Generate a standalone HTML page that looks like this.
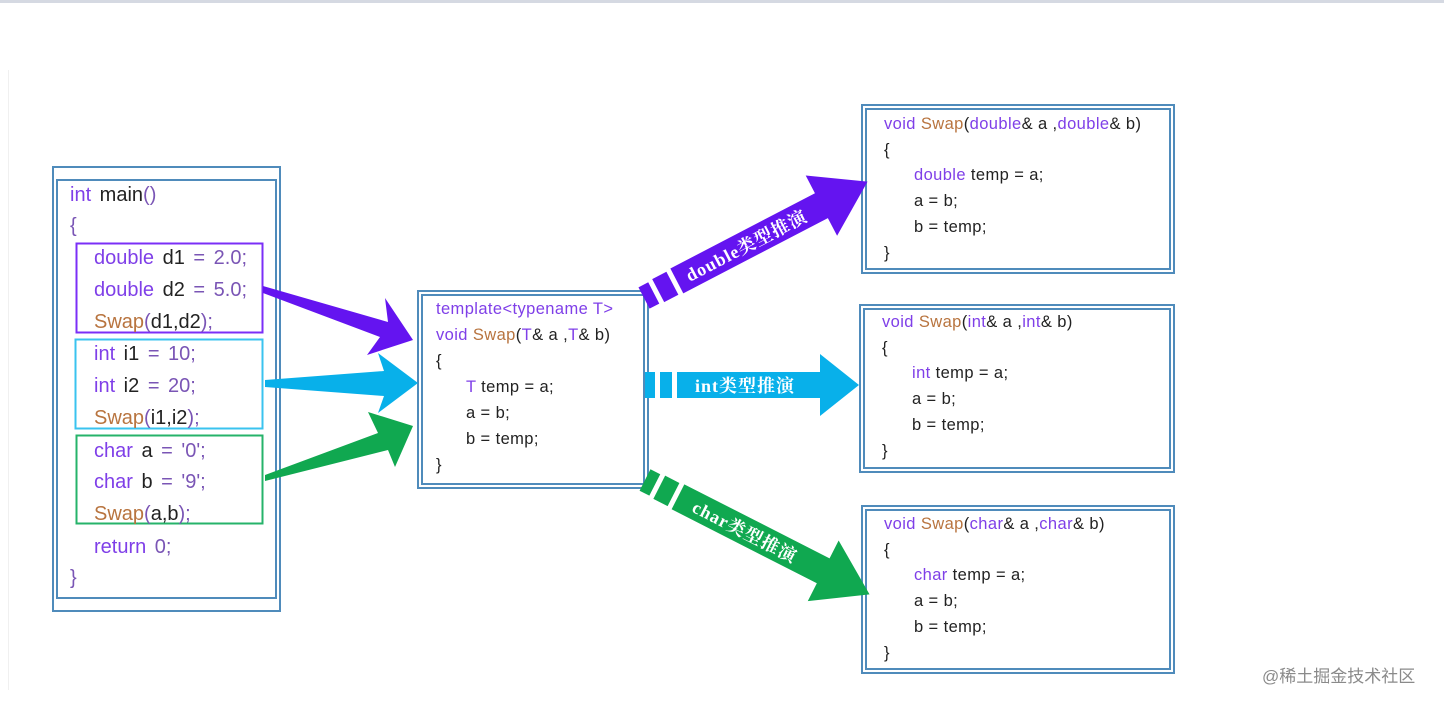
<!DOCTYPE html>
<html><head><meta charset="utf-8"><style>
html,body{margin:0;padding:0;background:#fff;width:1444px;height:706px;overflow:hidden}
svg text{font-family:"Liberation Sans","Noto Sans CJK SC",sans-serif}
.k{fill:#7f3fe8}.s{fill:#b8743f}.n{fill:#7a55b5}.d{fill:#222}
.lab{font-family:"Liberation Serif","Noto Serif CJK SC",serif !important;fill:#fff;font-weight:bold;font-size:18px;letter-spacing:1px}
.sm{font-size:16.5px;letter-spacing:0.4px}
</style></head><body>
<svg width="1444" height="706" xmlns="http://www.w3.org/2000/svg">
<rect x="0" y="0" width="1444" height="3" fill="#d5d9e2"/>
<line x1="8.5" y1="70" x2="8.5" y2="690" stroke="#f0f0f0"/>
<g fill="none" stroke="#4f8bbb" stroke-width="2">
<rect x="53" y="167" width="227" height="444"/><rect x="57" y="180" width="219" height="418"/>
<rect x="418" y="291" width="230" height="197"/><rect x="422" y="295" width="222" height="189"/>
<rect x="862" y="105" width="312" height="168"/><rect x="866" y="109" width="304" height="160"/>
<rect x="860" y="305" width="314" height="167"/><rect x="864" y="309" width="306" height="159"/>
<rect x="862" y="506" width="312" height="167"/><rect x="866" y="510" width="304" height="159"/>
</g>
<rect x="76.500" y="243.500" width="186" height="89" fill="none" stroke="#7b2ff7" stroke-width="2"/>
<rect x="75.500" y="339.500" width="187" height="89" fill="none" stroke="#3ac3ef" stroke-width="2"/>
<rect x="76.500" y="435.500" width="186" height="88" fill="none" stroke="#26b36a" stroke-width="2"/>
<g font-size="20" style="word-spacing:3px">
<text x="70" y="201"><tspan class="k">int</tspan><tspan class="d"> main</tspan><tspan class="n">()</tspan></text>
<text x="70" y="232" class="n">{</text>
<text x="94" y="264"><tspan class="k">double</tspan><tspan class="d"> d1 </tspan><tspan class="n">= 2.0;</tspan></text>
<text x="94" y="296"><tspan class="k">double</tspan><tspan class="d"> d2 </tspan><tspan class="n">= 5.0;</tspan></text>
<text x="94" y="328"><tspan class="s">Swap</tspan><tspan class="n">(</tspan><tspan class="d">d1,d2</tspan><tspan class="n">);</tspan></text>
<text x="94" y="360"><tspan class="k">int</tspan><tspan class="d"> i1 </tspan><tspan class="n">= 10;</tspan></text>
<text x="94" y="392"><tspan class="k">int</tspan><tspan class="d"> i2 </tspan><tspan class="n">= 20;</tspan></text>
<text x="94" y="424"><tspan class="s">Swap</tspan><tspan class="n">(</tspan><tspan class="d">i1,i2</tspan><tspan class="n">);</tspan></text>
<text x="94" y="457"><tspan class="k">char</tspan><tspan class="d"> a </tspan><tspan class="n">= '0';</tspan></text>
<text x="94" y="488"><tspan class="k">char</tspan><tspan class="d"> b </tspan><tspan class="n">= '9';</tspan></text>
<text x="94" y="520"><tspan class="s">Swap</tspan><tspan class="n">(</tspan><tspan class="d">a,b</tspan><tspan class="n">);</tspan></text>
<text x="94" y="553"><tspan class="k">return</tspan><tspan class="n"> 0;</tspan></text>
<text x="70" y="584" class="n">}</text>
</g>
<g class="sm">
<text x="436" y="314"><tspan class="k">template&lt;typename T&gt;</tspan></text>
<text x="436" y="340"><tspan class="k">void </tspan><tspan class="s">Swap</tspan><tspan class="d">(</tspan><tspan class="k">T</tspan><tspan class="d">&amp; a ,</tspan><tspan class="k">T</tspan><tspan class="d">&amp; b)</tspan></text>
<text x="436" y="366" class="d">{</text>
<text x="466" y="392"><tspan class="k">T</tspan><tspan class="d"> temp = a;</tspan></text>
<text x="466" y="418" class="d">a = b;</text>
<text x="466" y="444" class="d">b = temp;</text>
<text x="436" y="470" class="d">}</text>

<text x="884" y="129"><tspan class="k">void </tspan><tspan class="s">Swap</tspan><tspan class="d">(</tspan><tspan class="k">double</tspan><tspan class="d">&amp; a ,</tspan><tspan class="k">double</tspan><tspan class="d">&amp; b)</tspan></text>
<text x="884" y="155" class="d">{</text>
<text x="914" y="180"><tspan class="k">double</tspan><tspan class="d"> temp = a;</tspan></text>
<text x="914" y="206" class="d">a = b;</text>
<text x="914" y="232" class="d">b = temp;</text>
<text x="884" y="258" class="d">}</text>

<text x="882" y="327"><tspan class="k">void </tspan><tspan class="s">Swap</tspan><tspan class="d">(</tspan><tspan class="k">int</tspan><tspan class="d">&amp; a ,</tspan><tspan class="k">int</tspan><tspan class="d">&amp; b)</tspan></text>
<text x="882" y="353" class="d">{</text>
<text x="912" y="378"><tspan class="k">int</tspan><tspan class="d"> temp = a;</tspan></text>
<text x="912" y="404" class="d">a = b;</text>
<text x="912" y="430" class="d">b = temp;</text>
<text x="882" y="456" class="d">}</text>

<text x="884" y="529"><tspan class="k">void </tspan><tspan class="s">Swap</tspan><tspan class="d">(</tspan><tspan class="k">char</tspan><tspan class="d">&amp; a ,</tspan><tspan class="k">char</tspan><tspan class="d">&amp; b)</tspan></text>
<text x="884" y="555" class="d">{</text>
<text x="914" y="580"><tspan class="k">char</tspan><tspan class="d"> temp = a;</tspan></text>
<text x="914" y="606" class="d">a = b;</text>
<text x="914" y="632" class="d">b = temp;</text>
<text x="884" y="658" class="d">}</text>
</g>
<!-- left arrows -->
<polygon points="263,286 388,322 385,298 413,340 367,355 380,337 263,293" fill="#6414f0"/>
<polygon points="265,380 384,371 378,353 418,383 378,413 384,396 265,387" fill="#08b0ea"/>
<polygon points="265,475 378,433 368,412 413,426 395,467 388,450 265,481" fill="#10a850"/>
<!-- right arrows -->
<g transform="translate(644,298) rotate(-27.5)">
<rect x="0" y="-12" width="11" height="24" fill="#6414f0"/><rect x="16" y="-13" width="16" height="26" fill="#6414f0"/>
<polygon points="37,-14 200,-14 200,-34 252,0 200,34 200,14 37,14" fill="#6414f0"/>
<text x="48" y="7" class="lab">double类型推演</text>
</g>
<g transform="translate(645,385)">
<rect x="0" y="-13" width="10" height="26" fill="#08b0ea"/><rect x="15" y="-13" width="12" height="26" fill="#08b0ea"/>
<polygon points="32,-13 175,-13 175,-31 214,0 175,31 175,13 32,13" fill="#08b0ea"/>
<text x="50" y="7" class="lab">int类型推演</text>
</g>
<g transform="translate(645,480) rotate(27)">
<rect x="0" y="-12" width="11" height="24" fill="#10a850"/><rect x="16" y="-13" width="16" height="26" fill="#10a850"/>
<polygon points="37,-14 200,-14 200,-34 252,0 200,34 200,14 37,14" fill="#10a850"/>
<text x="55" y="7" class="lab">char类型推演</text>
</g>
<text x="1262" y="682" font-size="17" fill="#8a8a8a">@稀土掘金技术社区</text>
</svg>
</body></html>
